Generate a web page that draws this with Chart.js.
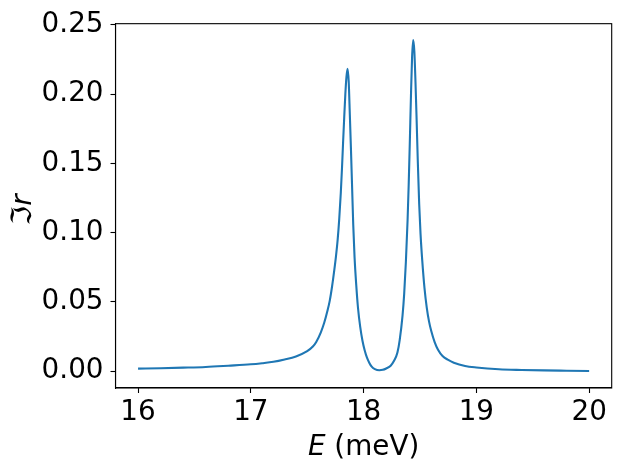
<!DOCTYPE html>
<html>
<head>
<meta charset="utf-8">
<script src="https://cdn.jsdelivr.net/npm/chart.js@4"></script>
<style>
html,body{margin:0;padding:0;background:#fff;}
#wrap{width:621px;height:470px;position:relative;}
</style>
</head>
<body>
<div id="wrap"><canvas id="c"></canvas></div>
<script>
// Energy (meV)
const energy = [16.0,16.2,16.4,16.6,16.8,17.0,17.1,17.2,17.3,17.4,17.5,17.55,17.58,17.62,17.65,17.68,17.70,17.72,17.74,17.755,17.77,17.784,17.798,17.808,17.818,17.828,17.838,17.848,17.858,17.868,17.878,17.888,17.898,17.908,17.92,17.935,17.95,17.97,17.99,18.01,18.03,18.05,18.07,18.1,18.14,18.17,18.2,18.24,18.27,18.3,18.32,18.345,18.36,18.375,18.39,18.40,18.41,18.42,18.43,18.44,18.45,18.46,18.47,18.48,18.493,18.505,18.52,18.54,18.56,18.58,18.6,18.63,18.66,18.7,18.75,18.8,18.9,19.0,19.2,19.4,19.6,19.8,20.0];
// Im r
const imR = [0.0019,0.0022,0.0026,0.0031,0.0040,0.0050,0.0058,0.0068,0.0085,0.0107,0.0145,0.0178,0.0211,0.0279,0.0348,0.0438,0.0510,0.0610,0.0730,0.0830,0.0950,0.1100,0.1290,0.1460,0.1650,0.1830,0.2000,0.2125,0.2184,0.2090,0.1850,0.1600,0.1330,0.1060,0.0820,0.0620,0.0460,0.0320,0.0220,0.0150,0.0098,0.0062,0.0035,0.0015,0.0007,0.0010,0.0020,0.0040,0.0075,0.0135,0.0225,0.0400,0.0560,0.0790,0.1090,0.1350,0.1660,0.1990,0.2270,0.2391,0.2310,0.2090,0.1820,0.1530,0.1205,0.0990,0.0800,0.0600,0.0460,0.0360,0.0290,0.0210,0.0155,0.0110,0.0082,0.0062,0.0038,0.0027,0.0014,0.0009,0.0006,0.0004,0.0002];
const xTicks = [16,17,18,19,20];
const yTicks = [0.00,0.05,0.10,0.15,0.20,0.25];

const FONT = 'DejaVu Sans';
const FS = 27.8;

const points = energy.map((e,i)=>({x:e,y:imR[i]}));

const framePlugin = {
  id:'frame',
  afterDraw(chart){
    const {ctx, chartArea:a} = chart;
    ctx.save();
    ctx.strokeStyle='#000';
    ctx.lineWidth=1.1;
    ctx.strokeRect(a.left, a.top, a.right-a.left, a.bottom-a.top);
    ctx.fillStyle='#000';
    ctx.textBaseline='alphabetic';
    const f1 = 'italic '+FS+'px "'+FONT+'"';
    const f2 = FS+'px "'+FONT+'"';
    ctx.font=f1; const w1=ctx.measureText('E').width;
    ctx.font=f2; const w2=ctx.measureText(' (meV)').width;
    const cx=(a.left+a.right)/2;
    let x0=cx-(w1+w2)/2;
    const by=455;
    ctx.font=f1; ctx.fillText('E',x0,by);
    ctx.font=f2; ctx.fillText(' (meV)',x0+w1,by);
    ctx.translate(31,(a.top+a.bottom)/2+4);
    ctx.rotate(-Math.PI/2);
    ctx.font=f2; const v1=ctx.measureText('ℑ').width;
    ctx.font=f1; const v2=ctx.measureText('r').width;
    let y0=-(v1+v2)/2;
    ctx.font=f2; ctx.fillText('ℑ',y0,0);
    ctx.font=f1; ctx.fillText('r',y0+v1,0);
    ctx.restore();
  }
};

new Chart(document.getElementById('c'),{
  type:'line',
  data:{datasets:[{
    data:points,
    borderColor:'#1f77b4',
    borderWidth:2.1,
    pointRadius:0,
    fill:false,
    cubicInterpolationMode:'monotone'
  }]},
  options:{
    responsive:true,
    maintainAspectRatio:false,
    animation:false,
    layout:{padding:{left:0,right:9.3,top:18.5,bottom:0}},
    plugins:{legend:{display:false},tooltip:{enabled:false}},
    scales:{
      x:{
        type:'linear',
        min:15.8,max:20.2,
        afterFit(s){s.height=82;},
        afterBuildTicks(s){s.ticks=xTicks.map(v=>({value:v}));},
        grid:{drawOnChartArea:false,color:'#000',tickLength:5,tickWidth:1.1},
        border:{display:true,color:'#000',width:1.1},
        ticks:{color:'#000',font:{family:FONT,size:FS},padding:3,maxRotation:0,autoSkip:false,
          callback:v=>String(v)}
      },
      y:{
        type:'linear',
        min:-0.0121,max:0.2509,
        afterFit(s){s.width=115.5;},
        afterBuildTicks(s){s.ticks=yTicks.map(v=>({value:v}));},
        grid:{drawOnChartArea:false,color:'#000',tickLength:5,tickWidth:1.1},
        border:{display:true,color:'#000',width:1.1},
        ticks:{color:'#000',font:{family:FONT,size:FS},padding:7,autoSkip:false,
          callback:v=>Number(v).toFixed(2)}
      }
    }
  },
  plugins:[framePlugin]
});
</script>
</body>
</html>
